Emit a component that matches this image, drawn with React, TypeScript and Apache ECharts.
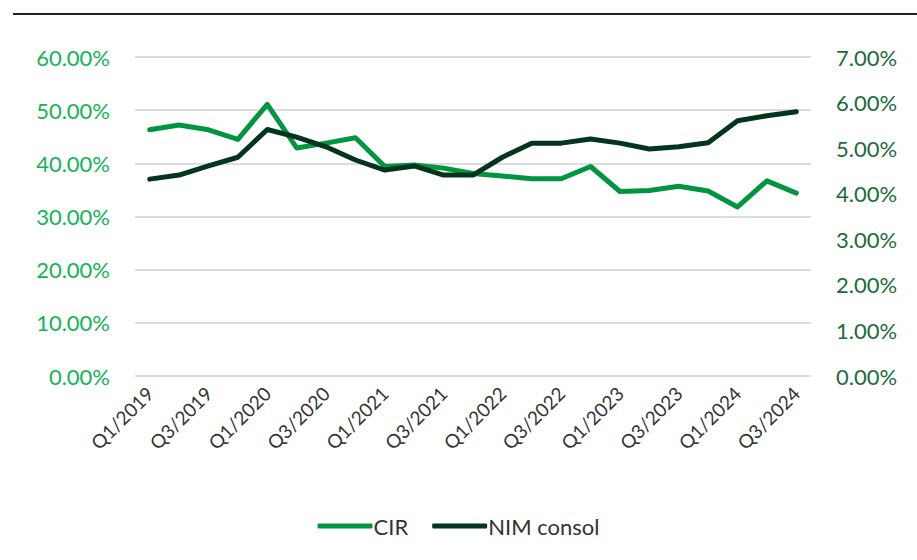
import React, { useEffect, useRef } from "react";
import * as echarts from "echarts";

const categories = [
  "Q1/2019", "Q2/2019", "Q3/2019", "Q4/2019",
  "Q1/2020", "Q2/2020", "Q3/2020", "Q4/2020",
  "Q1/2021", "Q2/2021", "Q3/2021", "Q4/2021",
  "Q1/2022", "Q2/2022", "Q3/2022", "Q4/2022",
  "Q1/2023", "Q2/2023", "Q3/2023", "Q4/2023",
  "Q1/2024", "Q2/2024", "Q3/2024",
];

const cir = [
  46.3, 47.2, 46.3, 44.5,
  51.1, 42.9, 43.8, 44.8,
  39.4, 39.7, 39.1, 38.1,
  37.6, 37.1, 37.1, 39.4,
  34.7, 34.9, 35.7, 34.8,
  31.8, 36.7, 34.4,
];

const nim = [
  4.32, 4.41, 4.61, 4.8,
  5.41, 5.24, 5.03, 4.74,
  4.52, 4.61, 4.41, 4.41,
  4.8, 5.11, 5.11, 5.2,
  5.11, 4.98, 5.03, 5.12,
  5.6, 5.71, 5.8,
];

const FONT = "Lato, 'Noto Sans', sans-serif";

export default function App() {
  const ref = useRef<HTMLDivElement>(null);
  useEffect(() => {
    document.body.style.margin = "0";
    const chart = echarts.init(ref.current!, null, { renderer: "svg" });
    chart.setOption({
      animation: false,
      textStyle: { fontFamily: FONT },
      graphic: [
        {
          type: "line",
          shape: { x1: 13, y1: 14, x2: 917, y2: 14 },
          style: { stroke: "#222", lineWidth: 2 },
        },
      ],
      grid: { left: 135, right: 106, top: 57, bottom: 184, containLabel: false },
      legend: {
        bottom: 18,
        left: "center",
        icon: "roundRect",
        itemWidth: 55,
        itemHeight: 5,
        itemGap: 24,
        textStyle: { fontSize: 22, color: "#333", fontFamily: FONT, padding: [0, 0, 0, -4] },
        data: ["CIR", "NIM consol"],
      },
      xAxis: {
        type: "category",
        data: categories,
        boundaryGap: true,
        axisLine: { show: false },
        axisTick: { show: false },
        axisLabel: {
          interval: 1,
          rotate: 45,
          fontSize: 19,
          color: "#333",
          margin: 14,
          fontFamily: FONT,
        },
      },
      yAxis: [
        {
          type: "value",
          min: 0,
          max: 60,
          interval: 10,
          axisLine: { show: false },
          axisTick: { show: false },
          splitLine: { lineStyle: { color: "#dcdcdc", width: 2 } },
          axisLabel: {
            formatter: (v: number) => v.toFixed(2) + "%",
            fontSize: 22,
            color: "#13b456",
            margin: 25,
            fontFamily: FONT,
          },
        },
        {
          type: "value",
          min: 0,
          max: 7,
          interval: 1,
          axisLine: { show: false },
          axisTick: { show: false },
          splitLine: { show: false },
          axisLabel: {
            formatter: (v: number) => v.toFixed(2) + "%",
            fontSize: 22,
            color: "#1b6b3a",
            margin: 25,
            fontFamily: FONT,
          },
        },
      ],
      series: [
        {
          name: "CIR",
          type: "line",
          data: cir,
          yAxisIndex: 0,
          symbol: "none",
          lineStyle: { width: 5, color: "#00953f", cap: "round", join: "round" },
          itemStyle: { color: "#00953f" },
        },
        {
          name: "NIM consol",
          type: "line",
          data: nim,
          yAxisIndex: 1,
          symbol: "none",
          lineStyle: { width: 5, color: "#03341c", cap: "round", join: "round" },
          itemStyle: { color: "#03341c" },
        },
      ],
    });
    return () => chart.dispose();
  }, []);
  return <div ref={ref} style={{ width: 917, height: 560 }} />;
}
